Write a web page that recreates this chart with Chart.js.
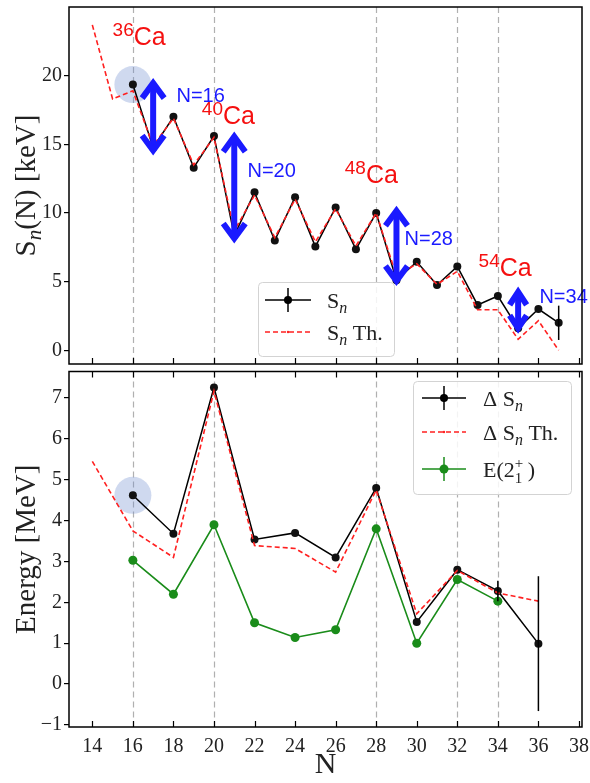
<!DOCTYPE html>
<html><head><meta charset="utf-8">
<script src="https://cdn.jsdelivr.net/npm/chart.js@4.4.1/dist/chart.umd.min.js"></script>
<style>
html,body{margin:0;padding:0;background:#fff;}
#wrap{position:relative;width:590px;height:783px;overflow:hidden;background:#fff;}
#c1{position:absolute;left:0;top:0;}
#c2{position:absolute;left:0;top:367px;}
</style></head><body>
<div id="wrap"><canvas id="c1" width="590" height="368"></canvas><canvas id="c2" width="590" height="416"></canvas></div>
<script>
// ---------------- data ----------------
const xTickVals = [14,16,18,20,22,24,26,28,30,32,34,36,38];
const topYTickVals = [0,5,10,15,20];
const botYTickVals = [-1,0,1,2,3,4,5,6,7];
const magicN = [16,20,28,32,34];

// top panel: one-neutron separation energy
const nExp = [16,17,18,19,20,21,22,23,24,25,26,27,28,29,30,31,32,33,34,35,36,37];
const snExp = [19.35,14.75,17.0,13.3,15.6,8.35,11.5,8.0,11.15,7.55,10.4,7.35,10.0,5.1,6.45,4.75,6.1,3.3,3.95,1.6,3.0,2.0];
const snExpErr = [0,0,0,0,0,0,0,0,0,0,0,0,0,0,0,0,0,0,0,0,0,1.25];
const nTh = [14,15,16,17,18,19,20,21,22,23,24,25,26,27,28,29,30,31,32,33,34,35,36,37];
const snTh = [23.7,18.3,18.9,14.9,16.9,13.5,15.5,8.7,11.3,8.2,11.0,7.9,10.3,7.6,10.0,5.4,6.3,4.8,5.75,2.95,2.95,0.8,2.15,0.0];

// bottom panel
const nDelta = [16,18,20,22,24,26,28,30,32,34,36];
const dSn = [4.62,3.68,7.26,3.54,3.7,3.1,4.8,1.52,2.8,2.28,0.99];
const dSnErr = [0,0,0,0,0,0,0,0,0,0.25,1.65];
const nDeltaTh = [14,16,18,20,22,24,26,28,30,32,34,36];
const dSnTh = [5.45,3.75,3.1,7.17,3.39,3.32,2.74,4.75,1.72,2.78,2.23,2.03];
const nE2 = [16,18,20,22,24,26,28,30,32,34];
const e2 = [3.03,2.2,3.9,1.5,1.14,1.33,3.8,1.0,2.56,2.03];

// annotations
const haloN = 16;
const haloTop = 19.35;
const haloBot = 4.62;
const caMass = ['36','40','48','54'];
const caLabelN = [15.0,19.4,26.45,33.05];
const caLabelS = [22.2,16.5,12.2,5.4];
const gapText = ['N=16','N=20','N=28','N=34'];
const arrowN = [17,21,29,35];
const arrowHi = [19.6,15.7,10.3,4.4];
const arrowLo = [14.4,8.0,4.9,1.45];
const gapLabelN = [18.15,21.65,29.4,36.05];
const gapLabelS = [18.1,12.65,7.65,3.45];

// ---------------- helpers ----------------
const SERIF = "'Liberation Serif','Times New Roman',serif";
const SANS = "'Liberation Sans',Arial,sans-serif";
Chart.defaults.font.family = SERIF;
Chart.defaults.color = '#222';

function drawRich(ctx, parts, x, y){
  let cx = x;
  for (const p of parts){
    ctx.font = p.f;
    ctx.fillText(p.t, cx, y + (p.dy||0));
    if (!p.noAdv) cx += ctx.measureText(p.t).width;
  }
}
function richWidth(ctx, parts){
  let w = 0;
  for (const p of parts){ ctx.font = p.f; if (!p.noAdv) w += ctx.measureText(p.t).width; }
  return w;
}
function drawMagic(chart){
  const {ctx, chartArea:a, scales:{x}} = chart;
  ctx.save();
  ctx.strokeStyle = '#b0b0b0'; ctx.lineWidth = 1.2; ctx.setLineDash([6,4]);
  for (const n of magicN){
    const px = Math.round(x.getPixelForValue(n)) + 0.5;
    ctx.beginPath(); ctx.moveTo(px, a.top); ctx.lineTo(px, a.bottom); ctx.stroke();
  }
  ctx.restore();
}
function drawHalo(chart, n, v){
  const {ctx, scales:{x,y}} = chart;
  ctx.save();
  ctx.fillStyle = 'rgba(110,140,205,0.33)';
  ctx.beginPath(); ctx.arc(x.getPixelForValue(n), y.getPixelForValue(v), 18.5, 0, Math.PI*2); ctx.fill();
  ctx.restore();
}
function drawErrors(chart){
  const {ctx, scales:{y}} = chart;
  chart.data.datasets.forEach((ds, i) => {
    if (!ds.errorBars) return;
    const meta = chart.getDatasetMeta(i);
    ctx.save(); ctx.strokeStyle = ds.borderColor; ctx.lineWidth = 1.5;
    meta.data.forEach((pt, j) => {
      const e = ds.errorBars[j]; if (!e) return;
      const v = ds.data[j].y;
      ctx.beginPath(); ctx.moveTo(pt.x, y.getPixelForValue(v+e)); ctx.lineTo(pt.x, y.getPixelForValue(v-e)); ctx.stroke();
    });
    ctx.restore();
  });
}
function drawFrame(chart, topTicks, bottomTicks){
  const {ctx, chartArea:a, scales:{x}} = chart;
  ctx.save();
  ctx.strokeStyle = '#000'; ctx.lineWidth = 1.5;
  ctx.strokeRect(a.left, a.top, a.right-a.left, a.bottom-a.top);
  ctx.lineWidth = 1.2;
  for (const t of xTickVals){
    const px = Math.round(x.getPixelForValue(t)) + 0.5;
    ctx.beginPath();
    if (bottomTicks){ ctx.moveTo(px, a.bottom); ctx.lineTo(px, a.bottom-6); }
    if (topTicks){ ctx.moveTo(px, a.top); ctx.lineTo(px, a.top+6); }
    ctx.stroke();
  }
  ctx.restore();
}
function drawYTitle(chart, parts){
  const {ctx, chartArea:a} = chart;
  ctx.save();
  ctx.fillStyle = '#222';
  ctx.translate(35, (a.top + a.bottom)/2);
  ctx.rotate(-Math.PI/2);
  ctx.textBaseline = 'alphabetic';
  const w = richWidth(ctx, parts);
  drawRich(ctx, parts, -w/2, 0);
  ctx.restore();
}
function drawArrow(ctx, px, yHi, yLo){
  const len = yLo - yHi;
  const hl = Math.min(15, len*0.32), hw = len < 50 ? 8.5 : 11;
  ctx.save();
  ctx.strokeStyle = '#1a1aff'; ctx.fillStyle = '#1a1aff'; ctx.lineWidth = 6; ctx.lineJoin = 'miter'; ctx.lineCap = 'butt';
  ctx.beginPath(); ctx.moveTo(px, yHi+3); ctx.lineTo(px, yLo-3); ctx.stroke();
  ctx.beginPath(); ctx.moveTo(px-hw, yHi+hl+2); ctx.lineTo(px, yHi+2); ctx.lineTo(px+hw, yHi+hl+2); ctx.stroke();
  ctx.beginPath(); ctx.moveTo(px-hw, yLo-hl-2); ctx.lineTo(px, yLo-2); ctx.lineTo(px+hw, yLo-hl-2); ctx.stroke();
  ctx.restore();
}
function legendBox(ctx, x, y, w, h){
  ctx.save();
  ctx.fillStyle = 'rgba(255,255,255,0.85)'; ctx.strokeStyle = '#d3d3d3'; ctx.lineWidth = 1;
  ctx.beginPath(); ctx.roundRect(x+0.5, y+0.5, w, h, 4); ctx.fill(); ctx.stroke();
  ctx.restore();
}
function legendLine(ctx, x1, x2, yc, color, dashed, marker, err){
  ctx.save();
  ctx.strokeStyle = color; ctx.fillStyle = color; ctx.lineWidth = 1.5;
  if (dashed) ctx.setLineDash([5,3]);
  ctx.beginPath(); ctx.moveTo(x1, yc); ctx.lineTo(x2, yc); ctx.stroke();
  ctx.setLineDash([]);
  const xc = (x1+x2)/2;
  if (err){ ctx.beginPath(); ctx.moveTo(xc, yc-12); ctx.lineTo(xc, yc+12); ctx.stroke(); }
  ctx.beginPath(); ctx.arc(xc, yc, marker, 0, Math.PI*2); ctx.fill();
  ctx.restore();
}
const F = 22;
const fMain = F + 'px ' + SERIF;
const fSub = 'italic 16px ' + SERIF;
const fSmall = '15px ' + SERIF;
const tickFont = {family: SERIF, size: 20};

// ---------------- top chart ----------------
const topPlugin = {
  id: 'topDecor',
  beforeDatasetsDraw(chart){ drawMagic(chart); drawHalo(chart, haloN, haloTop); },
  afterDatasetsDraw(chart){
    drawErrors(chart);
    const {ctx, scales:{x,y}} = chart;
    arrowN.forEach((n,i) => drawArrow(ctx, x.getPixelForValue(n), y.getPixelForValue(arrowHi[i]), y.getPixelForValue(arrowLo[i])));
    ctx.save();
    ctx.textBaseline = 'alphabetic';
    ctx.fillStyle = '#1a1aff'; ctx.font = '20px ' + SANS;
    gapText.forEach((t,i) => ctx.fillText(t, x.getPixelForValue(gapLabelN[i]), y.getPixelForValue(gapLabelS[i])));
    ctx.fillStyle = '#f51010';
    caMass.forEach((m,i) => {
      const px = x.getPixelForValue(caLabelN[i]), py = y.getPixelForValue(caLabelS[i]);
      drawRich(ctx, [{t:m, f:'19px '+SANS, dy:-9}, {t:'Ca', f:'25px '+SANS}], px, py);
    });
    ctx.restore();
  },
  afterDraw(chart){
    drawFrame(chart, false, true);
    const ctx = chart.ctx;
    legendBox(ctx, 258, 282, 136, 74);
    legendLine(ctx, 265, 311, 300, '#000', false, 4, true);
    legendLine(ctx, 265, 311, 332, '#ff2020', true, 1.2, false);
    ctx.save(); ctx.fillStyle = '#222'; ctx.textBaseline = 'alphabetic';
    drawRich(ctx, [{t:'S', f:fMain}, {t:'n', f:fSub, dy:5}], 327, 308);
    drawRich(ctx, [{t:'S', f:fMain}, {t:'n', f:fSub, dy:5}, {t:' Th.', f:fMain}], 327, 340);
    ctx.restore();
    drawYTitle(chart, [{t:'S', f:'29px '+SERIF}, {t:'n', f:'italic 21px '+SERIF, dy:6}, {t:'(N) [keV]', f:'29px '+SERIF}]);
  }
};

new Chart(document.getElementById('c1'), {
  type: 'line',
  data: { datasets: [
    { label: 'Sn Th.', data: nTh.map((n,i)=>({x:n, y:snTh[i]})), borderColor:'#ff2020', borderWidth:1.6, borderDash:[5,3], pointRadius:0, tension:0, order:0 },
    { label: 'Sn', data: nExp.map((n,i)=>({x:n, y:snExp[i]})), borderColor:'#000', backgroundColor:'#000', borderWidth:1.5, pointRadius:4, pointBorderWidth:0, pointBackgroundColor:'#111', tension:0, order:1, errorBars: snExpErr }
  ]},
  options: {
    responsive:false, animation:false, devicePixelRatio:1,
    layout:{padding:{top:7,right:8,bottom:1,left:0}},
    plugins:{legend:{display:false}, tooltip:{enabled:false}},
    scales:{
      x:{ type:'linear', min:12.85, max:38.15, display:false,
          afterBuildTicks:s=>{ s.ticks = xTickVals.map(v=>({value:v})); } },
      y:{ type:'linear', min:-1, max:25,
          afterBuildTicks:s=>{ s.ticks = topYTickVals.map(v=>({value:v})); },
          afterFit:s=>{ s.width = 69; s.paddingTop = 0; s.paddingBottom = 0; },
          grid:{drawOnChartArea:false, drawTicks:true, tickLength:5, color:'#000', lineWidth:1.2},
          border:{display:false},
          ticks:{font:tickFont, padding:2, color:'#222'} }
    }
  },
  plugins:[topPlugin]
});

// ---------------- bottom chart ----------------
const botPlugin = {
  id: 'botDecor',
  beforeDatasetsDraw(chart){ drawMagic(chart); drawHalo(chart, haloN, haloBot); },
  afterDatasetsDraw(chart){ drawErrors(chart); },
  afterDraw(chart){
    drawFrame(chart, true, true);
    const ctx = chart.ctx;
    legendBox(ctx, 413, 14, 158, 113);
    legendLine(ctx, 422, 466, 31, '#000', false, 4, true);
    legendLine(ctx, 422, 466, 65, '#ff2020', true, 1.2, false);
    legendLine(ctx, 422, 466, 102, '#1a8c1a', false, 4.5, true);
    ctx.save(); ctx.fillStyle = '#222'; ctx.textBaseline = 'alphabetic';
    drawRich(ctx, [{t:'\u0394 S', f:fMain}, {t:'n', f:fSub, dy:5}], 483, 39);
    drawRich(ctx, [{t:'\u0394 S', f:fMain}, {t:'n', f:fSub, dy:5}, {t:' Th.', f:fMain}], 483, 73);
    drawRich(ctx, [{t:'E(2', f:fMain}, {t:'+', f:fSmall, dy:-9, noAdv:true}, {t:'1', f:fSmall, dy:6}, {t:' )', f:fMain}], 483, 110);
    ctx.restore();
    drawYTitle(chart, [{t:'Energy [MeV]', f:'29px '+SERIF}]);
  }
};

new Chart(document.getElementById('c2'), {
  type: 'line',
  data: { datasets: [
    { label: '\u0394 Sn Th.', data: nDeltaTh.map((n,i)=>({x:n, y:dSnTh[i]})), borderColor:'#ff2020', borderWidth:1.6, borderDash:[5,3], pointRadius:0, tension:0, order:0 },
    { label: '\u0394 Sn', data: nDelta.map((n,i)=>({x:n, y:dSn[i]})), borderColor:'#000', backgroundColor:'#000', borderWidth:1.5, pointRadius:4, pointBorderWidth:0, pointBackgroundColor:'#111', tension:0, order:1, errorBars: dSnErr },
    { label: 'E(2+1)', data: nE2.map((n,i)=>({x:n, y:e2[i]})), borderColor:'#1a8c1a', backgroundColor:'#1a8c1a', borderWidth:1.6, pointRadius:4.5, pointBorderWidth:0, pointBackgroundColor:'#1a8c1a', tension:0, order:2 }
  ]},
  options: {
    responsive:false, animation:false, devicePixelRatio:1,
    layout:{padding:{top:1,right:8,bottom:0,left:0}},
    plugins:{legend:{display:false}, tooltip:{enabled:false}},
    scales:{
      x:{ type:'linear', min:12.85, max:38.15,
          afterBuildTicks:s=>{ s.ticks = xTickVals.map(v=>({value:v})); },
          afterFit:s=>{ s.height = 56; s.paddingLeft = 0; s.paddingRight = 0; },
          grid:{display:false}, border:{display:false},
          ticks:{font:tickFont, padding:0, color:'#222', autoSkip:false, maxRotation:0},
          title:{display:true, text:'N', font:{family:SERIF, size:30}, color:'#222', padding:{top:0,bottom:0}} },
      y:{ type:'linear', min:-1.05, max:7.65,
          afterBuildTicks:s=>{ s.ticks = botYTickVals.map(v=>({value:v})); },
          afterFit:s=>{ s.width = 69; s.paddingTop = 0; s.paddingBottom = 0; },
          grid:{drawOnChartArea:false, drawTicks:true, tickLength:5, color:'#000', lineWidth:1.2},
          border:{display:false},
          ticks:{font:tickFont, padding:2, color:'#222', callback:v=>String(v).replace('-', '\u2212')} }
    }
  },
  plugins:[botPlugin]
});
</script>
</body></html>
